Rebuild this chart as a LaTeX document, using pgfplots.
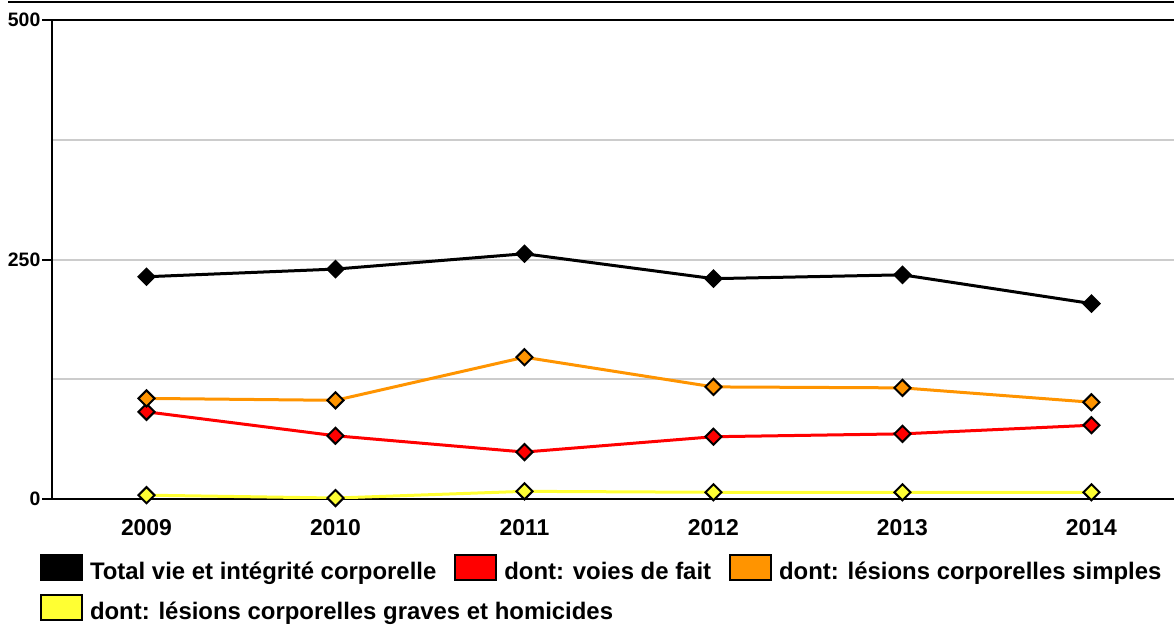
\documentclass[border=0pt]{standalone}
\usepackage{pgfplots}
\pgfplotsset{compat=1.18}
\usepackage{fontspec}
\setmainfont{Liberation Sans}
\definecolor{cred}{RGB}{255,0,0}
\definecolor{corange}{RGB}{255,148,0}
\definecolor{cyellow}{RGB}{255,255,51}
\definecolor{cgrid}{RGB}{204,204,204}
\begin{document}
\begin{tikzpicture}
\useasboundingbox (0,0) rectangle (1174bp,625bp);
\begin{axis}[
  name=ax,
  at={(52bp,126bp)}, anchor=south west,
  scale only axis, width=1134bp, height=479bp,
  xmin=2008.5, xmax=2014.5, ymin=0, ymax=500,
  axis x line*=box, axis y line*=left,
  axis line style={line width=2.5bp, black},
  /pgf/number format/assume math mode=true,
  /pgf/number format/1000 sep={},
  xtick={2009,2010,2011,2012,2013,2014},
  xtick style={draw=none},
  xticklabel pos=lower,
  ytick={0,250,500},
  ytick style={line width=2bp, black},
  tick align=outside,
  major tick length=10bp,
  minor ytick={125,375},
  minor tick length=0pt,
  ymajorgrids, yminorgrids,
  major grid style={cgrid, line width=2bp},
  minor grid style={cgrid, line width=2bp},
  xticklabel style={font=\bfseries\fontsize{23}{23}\selectfont, inner sep=0pt, anchor=north, yshift=-10bp},
  yticklabel style={font=\bfseries\fontsize{19.5}{19.5}\selectfont, inner sep=1.5bp},
  clip mode=individual,
  legend columns=3,
  legend cell align=left,
  legend style={draw=none, fill=none, inner sep=0pt, outer sep=0pt,
    at={(rel axis cs:0,0)}, anchor=north west, xshift=-12bp, yshift=-54.5bp,
    font=\bfseries\fontsize{24}{26}\selectfont,
    nodes={inner xsep=4bp, inner ysep=2bp, text height=24bp, text depth=0bp},
    row sep=11.5bp,
    /tikz/every odd column/.append style={column sep=3bp},
    /tikz/every even column/.append style={column sep=14bp}},
  every axis plot/.append style={line width=3bp, mark=square*, mark size=5.7bp},
]
\addplot[black, mark options={draw=black, line width=2bp, rotate=45, solid, fill=black},
  legend image code/.code={\draw[line width=2bp, draw=black, fill=black] (0bp,-12.5bp) rectangle (41bp,12.5bp);}]
  coordinates {(2009,232) (2010,240) (2011,256) (2012,230) (2013,234) (2014,204)};
\addlegendentry{Total vie et intégrité corporelle}
\addplot[cred, mark options={draw=black, line width=2bp, rotate=45, solid, fill=cred},
  legend image code/.code={\draw[line width=2bp, draw=black, fill=cred] (0bp,-12.5bp) rectangle (41bp,12.5bp);}]
  coordinates {(2009,91) (2010,66) (2011,49) (2012,65) (2013,68) (2014,77)};
\addlegendentry{dont: voies de fait}
\addplot[corange, mark options={draw=black, line width=2bp, rotate=45, solid, fill=corange},
  legend image code/.code={\draw[line width=2bp, draw=black, fill=corange] (0bp,-12.5bp) rectangle (41bp,12.5bp);}]
  coordinates {(2009,105) (2010,103) (2011,148) (2012,117) (2013,116) (2014,101)};
\addlegendentry{dont: lésions corporelles simples}
\addplot[cyellow, mark options={draw=black, line width=2bp, rotate=45, solid, fill=cyellow},
  legend image code/.code={\draw[line width=2bp, draw=black, fill=cyellow] (0bp,-12.5bp) rectangle (41bp,12.5bp);}]
  coordinates {(2009,4) (2010,1) (2011,8) (2012,7) (2013,7) (2014,7)};
\addlegendentry{\makebox[0pt][l]{dont: lésions corporelles graves et homicides}}
\end{axis}
\draw[line width=2bp] (ax.north west) ++(-44bp,18bp) -- ++(1170bp,0);
\end{tikzpicture}
\end{document}
